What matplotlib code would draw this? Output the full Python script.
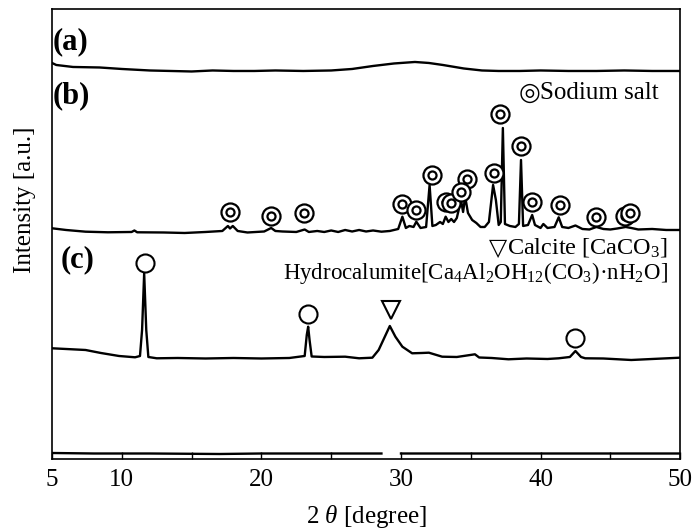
import numpy as np
import matplotlib.pyplot as plt

plt.rcParams['font.family'] = ['Liberation Serif', 'DejaVu Serif']
plt.rcParams['mathtext.fontset'] = 'custom'
plt.rcParams['mathtext.rm'] = 'Liberation Serif'
plt.rcParams['mathtext.it'] = 'Liberation Serif:italic'

# (a) amorphous sample, stacked on top
a_x = [5.0, 5.3, 6.5, 8.4, 10, 12, 13.5, 15, 16.5, 18, 19.5, 21, 23, 25, 26.5, 28,
       29.5, 31, 32, 33, 34.5, 35.8, 37, 38.5, 40, 42, 44, 46, 48, 50]
a_y = [397, 395, 393, 392.5, 391, 389.5, 389, 388.5, 389.5, 389, 389, 389.5, 389, 389.5,
       391, 394, 396.5, 398, 397, 395, 391.5, 389.5, 389, 389, 389.5, 389, 389, 389.5, 389, 389]

# (b) sodium salt pattern
b_x = [5.0, 6.0, 7.4, 9.0, 10.7, 10.9, 11.1, 13.0, 14.5, 16.0, 17.2, 17.6, 17.75, 17.95, 18.3,
       19.0, 20.2, 20.7, 21.0, 21.5, 22.5, 23.1, 23.4, 24.0, 24.5, 25.0, 25.5, 26.0, 26.5,
       27.0, 27.5, 28.0, 28.6, 29.2, 29.8, 30.1, 30.35, 30.6, 30.9, 31.1, 31.4, 31.8, 32.05,
       32.25, 32.5, 32.8, 33.0, 33.2, 33.4, 33.6, 33.8, 34.0, 34.3, 34.45, 34.6, 34.8, 35.1,
       35.4, 35.7, 36.0, 36.3, 36.6, 36.8, 37.0, 37.15, 37.3, 37.45, 37.8, 38.2, 38.45, 38.6,
       38.75, 39.1, 39.4, 39.6, 40.0, 40.2, 40.5, 41.0, 41.3, 41.55, 42.0, 42.5, 43.0, 43.5,
       44.0, 44.5, 45.0, 45.5, 46.1, 46.5, 47.0, 48.0, 49.0, 50.0]
b_y = [231.7, 230, 228.3, 227.7, 228, 229.5, 227.7, 227.5, 227, 228, 229, 234, 231.5, 234, 229,
       227.5, 228.5, 232, 229, 228.5, 228, 230.5, 228, 229, 228, 229.5, 228, 230, 228.5,
       230, 228.5, 229.5, 228.3, 229, 231, 243.3, 232, 234, 233, 238.3, 232, 233, 275,
       234, 235, 238, 236, 243.3, 238, 241, 238, 242, 260, 248, 263.3, 247, 240,
       237, 233, 233, 238, 275, 260, 235, 238, 332, 236, 234, 233, 236, 300,
       234, 235, 245, 235, 232, 236, 232, 233, 242.7, 233, 232, 234.5, 231, 230.5,
       233, 231, 230.5, 231.5, 233, 232, 230.5, 231, 230, 230]

# (c) hydrocalumite / calcite pattern
c_x = [5.0, 6.0, 7.4, 8.5, 9.8, 10.95, 11.3, 11.45, 11.6, 11.75, 11.9, 12.5, 14, 16, 18, 20,
       22, 23.1, 23.25, 23.35, 23.45, 23.6, 24.5, 26, 27, 27.95, 28.4, 28.9, 29.2, 29.6,
       30.1, 30.8, 31.5, 32.0, 32.95, 34, 35.3, 35.6, 36.5, 37.7, 39, 40.5, 41.3, 42.1,
       42.5, 42.9, 43.2, 44.5, 46.5, 48, 50]
c_y = [111.7, 111, 110, 107, 104, 102.7, 104, 130, 186.7, 130, 103, 101.7, 102, 101.5, 102, 101.5,
       102, 104, 125, 133.3, 120, 103.5, 103, 103.3, 101.7, 102.3, 110, 125, 134, 123.3,
       113.3, 106.7, 107, 107.3, 103.3, 103, 105.7, 102.5, 102, 100.7, 101.5, 101, 101.7, 103,
       109, 103, 101.7, 101.5, 100, 101, 102.3]

# trace lying on the bottom axis (broken near 29 deg)
d_x = [5, 8, 12, 17, 20, 25, 28.6, np.nan, 30.0, 35, 40, 45, 50]
d_y = [7, 6.5, 6.5, 6, 6.5, 6.5, 6.5, np.nan, 6.5, 6.5, 6.5, 6.5, 6.5]

# marker positions
salt_x = [17.75, 20.7, 23.05, 30.1, 31.1, 32.2, 33.2, 33.55, 34.7, 34.3, 36.7, 37.1,
          38.6, 39.4, 41.4, 44.0, 46.05, 46.4]
salt_y = [248.3, 244, 246.7, 256, 250, 285, 258.3, 256.7, 281, 268.3, 287, 346,
          314, 258, 255, 242.7, 244, 246.7]
hydro_x = [11.65, 23.35, 42.45]
hydro_y = [197.3, 145.7, 121.7]
calcite_x = [29.25]
calcite_y = [150]

fig = plt.figure(figsize=(6.94, 5.31), dpi=100)
ax = fig.add_axes([0.075, 0.1356, 0.905, 0.8475])

for xs, ys in [(a_x, a_y), (b_x, b_y), (c_x, c_y), (d_x, d_y)]:
    ax.plot(xs, ys, color='k', lw=1.7, zorder=2)

for x, y in zip(salt_x, salt_y):
    ax.plot(x, y, 'o', ms=13, mfc='white', mec='k', mew=1.6, zorder=3)
    ax.plot(x, y, 'o', ms=5.8, mfc='white', mec='k', mew=1.6, zorder=3)
ax.plot(hydro_x, hydro_y, 'o', ms=13, mfc='white', mec='k', mew=1.5, ls='none', zorder=3)
ax.plot(calcite_x, calcite_y, 'v', ms=13, mfc='white', mec='k', mew=1.5, ls='none', zorder=3)

ax.set_xlim(5, 50)
ax.set_ylim(1, 451)
ax.set_yticks([])
ax.set_xticks(range(5, 51, 5))
ax.set_xticklabels(['5', '10', '', '20', '', '30', '', '40', '', '50'], fontsize=18)
ax.tick_params(axis='x', direction='in', length=5, width=1, pad=7)
for s in ax.spines.values():
    s.set_linewidth(1.2)

ax.text(5.05, 418, '(a)', fontsize=22, fontweight='bold', ha='left', va='center')
ax.text(5.05, 364, '(b)', fontsize=22, fontweight='bold', ha='left', va='center')
ax.text(5.65, 200, '(c)', fontsize=22, fontweight='bold', ha='left', va='center')

t1 = ax.text(39.98, 367, 'Sodium salt', fontsize=18, ha='left', va='center')
ax.annotate('\u25CE', xy=(0, 0.5), xycoords=t1, ha='right', va='center',
            fontsize=18, family='DejaVu Sans')
t2 = ax.text(49.14, 212, 'Calcite [CaCO$_3$]', fontsize=17.5, ha='right', va='center')
ax.annotate('\u25BD', xy=(0, 0.5), xycoords=t2, ha='right', va='center',
            fontsize=17, family='DejaVu Sans')
ax.text(49.14, 187, 'Hydrocalumite[Ca$_4$Al$_2$OH$_{12}$(CO$_3$)\u00B7nH$_2$O]',
        fontsize=16.5, ha='right', va='center')

ax.set_xlabel(r'2 $\theta$ [degree]', fontsize=18, labelpad=9)
ax.set_ylabel('Intensity [a.u.]', fontsize=18)
ax.yaxis.set_label_coords(-0.025, 0.576)

fig.savefig('out.png', dpi=100)
